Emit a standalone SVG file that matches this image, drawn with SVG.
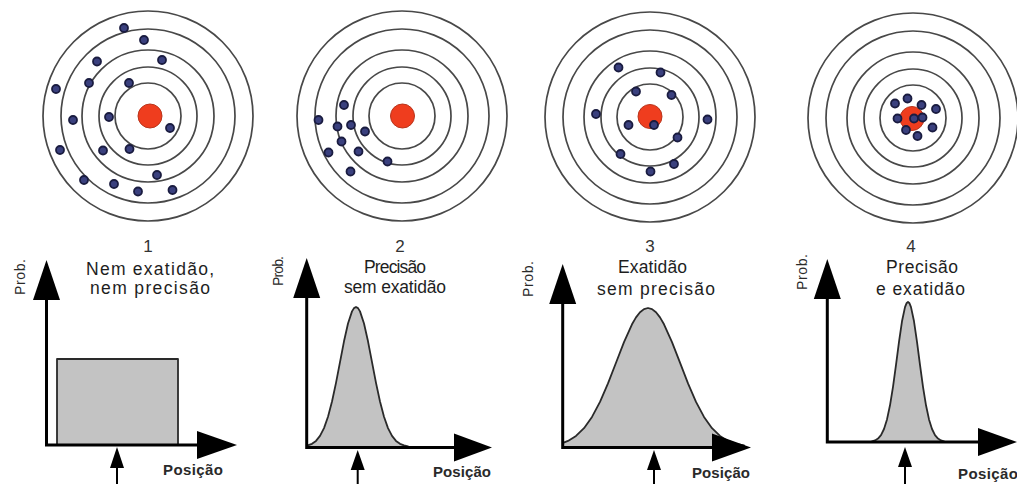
<svg xmlns="http://www.w3.org/2000/svg" xmlns:xlink="http://www.w3.org/1999/xlink" width="1017" height="487" viewBox="0 0 1017 487">
<style>
.ring{fill:none;stroke:#484848;stroke-width:1.7}
.bull{fill:#ef3d1e;stroke:#b8351c;stroke-width:1}
.shot{fill:#3a407e;stroke:#1a1c40;stroke-width:1.8}
.axis{stroke:#000;stroke-width:3;fill:none}
.head{fill:#000}
.dist{fill:#c3c3c3;stroke:#2a2a2a;stroke-width:1.8;stroke-linejoin:round}
.mark{stroke:#000;stroke-width:2}
.title{font-family:"Liberation Sans",Arial,sans-serif;font-size:17.5px;fill:#1e1e1e}
.num{font-family:"Liberation Sans",Arial,sans-serif;font-size:17px;fill:#333;text-anchor:middle}
.pos{font-family:"Liberation Sans",Arial,sans-serif;font-size:15px;font-weight:bold;fill:#2a2a2a}
.prob{font-family:"Liberation Sans",Arial,sans-serif;font-size:14px;fill:#2a2a2a;text-anchor:middle}
</style>
<defs>
<g id="rings">
<circle class="ring" r="105"/>
<circle class="ring" r="87"/>
<circle class="ring" r="66"/>
<circle class="ring" r="49"/>
<circle class="ring" r="33"/>
</g>
</defs>
<rect width="1017" height="487" fill="#fff"/>

<g id="target1">
<use xlink:href="#rings" href="#rings" x="148" y="116"/>
<circle class="bull" cx="150" cy="116" r="12"/>
<circle class="shot" cx="124" cy="28" r="4"/>
<circle class="shot" cx="144" cy="40" r="4"/>
<circle class="shot" cx="97" cy="61.5" r="4"/>
<circle class="shot" cx="162" cy="60" r="4"/>
<circle class="shot" cx="89" cy="83" r="4"/>
<circle class="shot" cx="129" cy="83" r="4"/>
<circle class="shot" cx="56" cy="89" r="4"/>
<circle class="shot" cx="73" cy="120" r="4"/>
<circle class="shot" cx="109" cy="117" r="4"/>
<circle class="shot" cx="170" cy="128" r="4"/>
<circle class="shot" cx="60" cy="150" r="4"/>
<circle class="shot" cx="103" cy="150.5" r="4"/>
<circle class="shot" cx="129.5" cy="149" r="4"/>
<circle class="shot" cx="157" cy="175" r="4"/>
<circle class="shot" cx="84" cy="180" r="4"/>
<circle class="shot" cx="114" cy="184" r="4"/>
<circle class="shot" cx="138" cy="191.5" r="4"/>
<circle class="shot" cx="172.5" cy="190" r="4"/>
</g>

<g id="target2">
<use xlink:href="#rings" href="#rings" x="402" y="116"/>
<circle class="bull" cx="402.5" cy="116" r="12"/>
<circle class="shot" cx="344" cy="105" r="4"/>
<circle class="shot" cx="318.5" cy="120" r="4"/>
<circle class="shot" cx="337.5" cy="126.5" r="4"/>
<circle class="shot" cx="351" cy="125" r="4"/>
<circle class="shot" cx="365" cy="131.5" r="4"/>
<circle class="shot" cx="341.5" cy="141.5" r="4"/>
<circle class="shot" cx="328.5" cy="152.5" r="4"/>
<circle class="shot" cx="358.5" cy="151.5" r="4"/>
<circle class="shot" cx="387.5" cy="161.5" r="4"/>
<circle class="shot" cx="350.5" cy="171.5" r="4"/>
</g>

<g id="target3">
<use xlink:href="#rings" href="#rings" x="650" y="117"/>
<circle class="bull" cx="650" cy="116.5" r="12"/>
<circle class="shot" cx="618.5" cy="67.5" r="4"/>
<circle class="shot" cx="660.5" cy="72.5" r="4"/>
<circle class="shot" cx="636" cy="91.5" r="4"/>
<circle class="shot" cx="671.5" cy="95" r="4"/>
<circle class="shot" cx="596" cy="114" r="4"/>
<circle class="shot" cx="707.5" cy="119.5" r="4"/>
<circle class="shot" cx="628.5" cy="125" r="4"/>
<circle class="shot" cx="654" cy="125" r="4"/>
<circle class="shot" cx="677.5" cy="137.5" r="4"/>
<circle class="shot" cx="620.5" cy="154" r="4"/>
<circle class="shot" cx="674" cy="164" r="4"/>
<circle class="shot" cx="650.5" cy="171.5" r="4"/>
</g>

<g id="target4">
<use xlink:href="#rings" href="#rings" x="913" y="118"/>
<circle class="bull" cx="912" cy="118.5" r="12"/>
<circle class="shot" cx="895" cy="103.5" r="4"/>
<circle class="shot" cx="907.5" cy="98.5" r="4"/>
<circle class="shot" cx="921.5" cy="105" r="4"/>
<circle class="shot" cx="936" cy="109" r="4"/>
<circle class="shot" cx="897.5" cy="118.5" r="4"/>
<circle class="shot" cx="914" cy="118.5" r="4"/>
<circle class="shot" cx="922.5" cy="117.5" r="4"/>
<circle class="shot" cx="932.5" cy="127.5" r="4"/>
<circle class="shot" cx="906" cy="130" r="4"/>
<circle class="shot" cx="917.5" cy="136" r="4"/>
</g>

<g id="graph1">
<text class="num" x="148" y="252">1</text>
<text class="title" x="86" y="275" textLength="128">Nem exatidão,</text>
<text class="title" x="90" y="294" textLength="120">nem precisão</text>
<rect class="dist" x="57" y="359" width="121" height="86"/>
<path class="axis" d="M46.5,296 V446.5 M45,445 H200"/>
<polygon class="head" points="46.5,260 33,300 60,300"/>
<polygon class="head" points="237,445 197,431 197,459"/>
<line class="mark" x1="117" y1="464" x2="117" y2="484"/>
<polygon class="head" points="117,447 110,468 124,468"/>
<text class="pos" x="163" y="475" textLength="60">Posição</text>
<text class="prob" transform="translate(25,277) rotate(-90)" textLength="36">Prob.</text>
</g>

<g id="graph2">
<text class="num" x="400" y="252">2</text>
<text class="title" x="364" y="273" textLength="62">Precisão</text>
<text class="title" x="344" y="293" textLength="102">sem exatidão</text>
<path class="dist" d="M307,445.7 L312,443.8 316,440.9 320,435.9 324,428.1 328,416.7 332,401.5 336,382.9 340,362.1 344,341.3 348,323.5 352,311.4 354,308.1 356,307 358,308.1 360,311.4 364,323.5 368,341.3 372,362.1 376,382.9 380,401.5 384,416.7 388,428.1 392,435.9 396,440.9 400,443.8 404,445.4 408,446.4 L408,447.5 307,447.5 Z"/>
<path class="axis" d="M306.7,294 V449 M305.2,447.5 H458"/>
<polygon class="head" points="306.7,258 293.2,298 320.2,298"/>
<polygon class="head" points="492,447.5 454,433.5 454,461.5"/>
<line class="mark" x1="357.7" y1="466" x2="357.7" y2="484"/>
<polygon class="head" points="357.7,450 350.7,470 364.7,470"/>
<text class="pos" x="433" y="477" textLength="58">Posição</text>
<text class="prob" transform="translate(283,271) rotate(-90)" textLength="30">Prob.</text>
</g>

<g id="graph3">
<text class="num" x="650" y="252">3</text>
<text class="title" x="618" y="273" textLength="69">Exatidão</text>
<text class="title" x="597" y="295" textLength="118">sem precisão</text>
<path class="dist" d="M563,442.9 L568,440.9 576,435.9 584,428.2 592,416.9 600,401.9 608,383.4 616,362.7 624,342.1 632,324.3 636,317.4 640,312.3 644,309.1 648,308 652,309.1 656,312.3 660,317.4 664,324.3 672,342.1 680,362.7 688,383.4 696,401.9 704,416.9 712,428.2 720,435.9 728,440.9 736,443.8 744,445.5 L744,447.5 563,447.5 Z"/>
<path class="axis" d="M562.7,300 V449 M561.2,447.5 H716"/>
<polygon class="head" points="562.7,264 549.2,304 576.2,304"/>
<polygon class="head" points="751,447.5 712,433.5 712,461.5"/>
<line class="mark" x1="654" y1="466" x2="654" y2="484"/>
<polygon class="head" points="654,450 647,470 661,470"/>
<text class="pos" x="692" y="478" textLength="58">Posição</text>
<text class="prob" transform="translate(533,279) rotate(-90)" textLength="36">Prob.</text>
</g>

<g id="graph4">
<text class="num" x="911" y="252">4</text>
<text class="title" x="886" y="273" textLength="72">Precisão</text>
<text class="title" x="876" y="295" textLength="89">e exatidão</text>
<path class="dist" d="M872,441.3 L875,440.4 878,438.6 881,435.1 884,429 887,419.4 890,405.3 893,386.8 896,364.8 899,341.8 902,321.3 905,307.1 906.5,303.3 908,302 909.5,303.3 911,307.1 914,321.3 917,341.8 920,364.8 923,386.8 926,405.3 929,419.4 932,429 935,435.1 938,438.6 941,440.4 944,441.3 L944,442 872,442 Z"/>
<path class="axis" d="M827.3,295 V443.5 M825.8,442 H982"/>
<polygon class="head" points="827.3,259 813.8,299 840.8,299"/>
<polygon class="head" points="1017,442 978,428 978,456"/>
<line class="mark" x1="905" y1="463" x2="905" y2="484"/>
<polygon class="head" points="905,447 898,467 912,467"/>
<text class="pos" x="958" y="479" textLength="60">Posição</text>
<text class="prob" transform="translate(807,272) rotate(-90)" textLength="36">Prob.</text>
</g>
</svg>
